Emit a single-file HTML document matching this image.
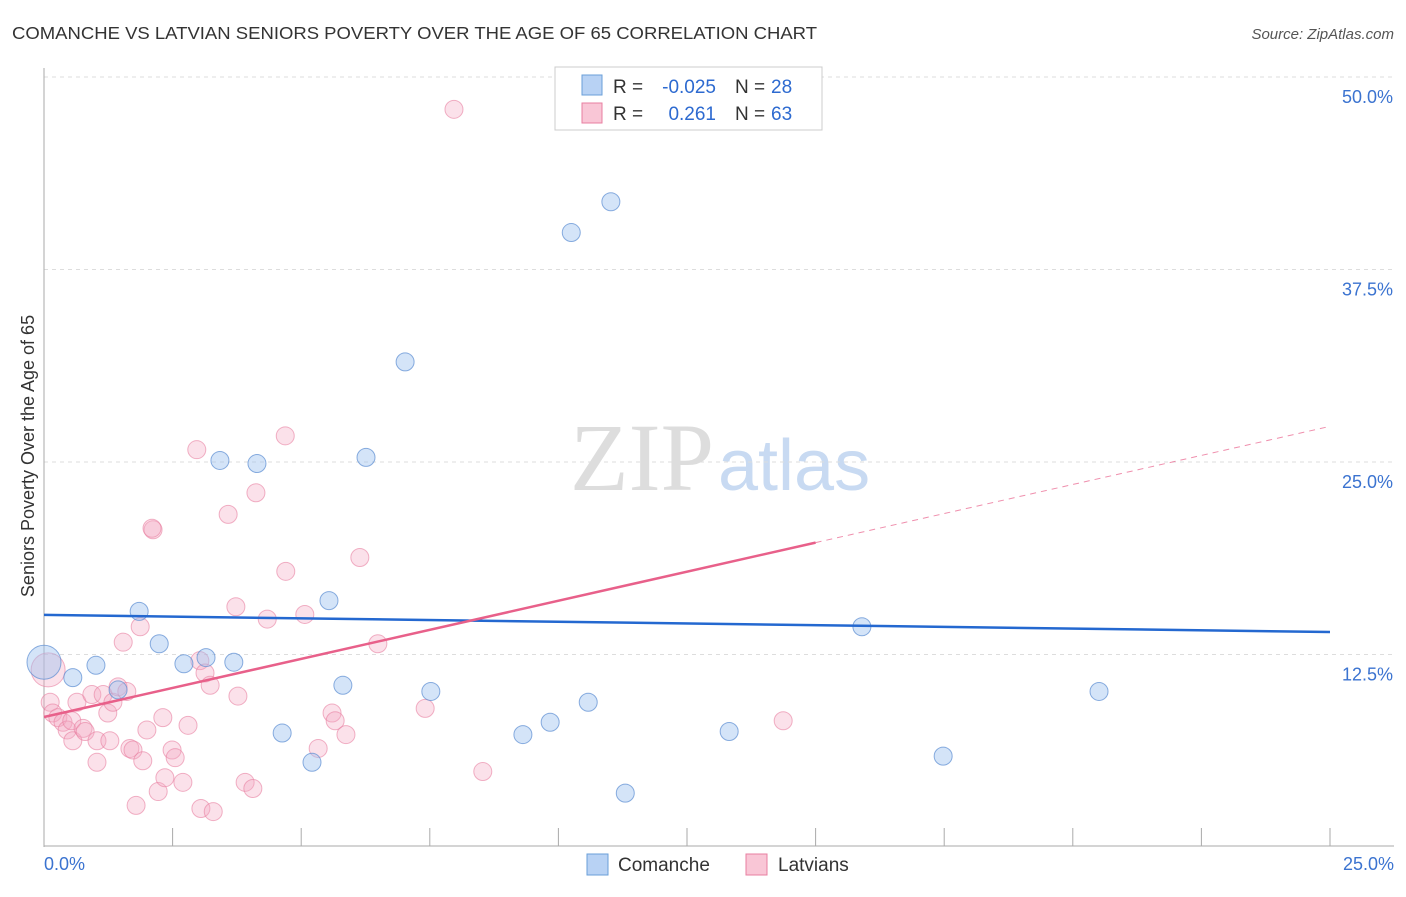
<!DOCTYPE html>
<html><head><meta charset="utf-8"><style>
body{margin:0;background:#fff;font-family:"Liberation Sans",sans-serif}
svg text{font-family:"Liberation Sans",sans-serif}
</style></head><body>
<svg id="c" width="1406" height="892">
<text x="12" y="39" font-size="17.5" fill="#333" textLength="805" lengthAdjust="spacingAndGlyphs">COMANCHE VS LATVIAN SENIORS POVERTY OVER THE AGE OF 65 CORRELATION CHART</text>
<text x="1394" y="39" font-size="15" fill="#555" font-style="italic" text-anchor="end">Source: ZipAtlas.com</text>
<text x="714" y="490" font-size="96" fill="#ddd" text-anchor="end" style="font-family:'Liberation Serif',serif">ZIP</text>
<text x="718" y="490" font-size="72" fill="#c8daf2">atlas</text>
<g id="grid"></g><g id="marks"></g>
<text transform="translate(34,456) rotate(-90)" font-size="18" fill="#333" text-anchor="middle">Seniors Poverty Over the Age of 65</text>
<g>
<rect x="555" y="67" width="267" height="63" fill="#fff" stroke="#ccc"/>
<rect x="582" y="75" width="20" height="20" fill="#b8d2f4" stroke="#6a9fd8"/>
<rect x="582" y="103" width="20" height="20" fill="#f9c6d6" stroke="#e87fa0"/>
<text x="613" y="93" font-size="19" fill="#333">R =</text>
<text x="716" y="93" font-size="19" fill="#2d6ad0" text-anchor="end">-0.025</text>
<text x="735" y="93" font-size="19" fill="#333">N =</text>
<text x="771" y="93" font-size="19" fill="#2d6ad0">28</text>
<text x="613" y="120" font-size="19" fill="#333">R =</text>
<text x="716" y="120" font-size="19" fill="#2d6ad0" text-anchor="end">0.261</text>
<text x="735" y="120" font-size="19" fill="#333">N =</text>
<text x="771" y="120" font-size="19" fill="#2d6ad0">63</text>
</g>
<g>
<rect x="587" y="854" width="21" height="21" fill="#b8d2f4" stroke="#6a9fd8"/>
<text x="618" y="871" font-size="19" fill="#333">Comanche</text>
<rect x="746" y="854" width="21" height="21" fill="#f9c6d6" stroke="#e87fa0"/>
<text x="778" y="871" font-size="19" fill="#333">Latvians</text>
</g>
</svg>
<script>
const xTicks=[0,2.5,5,7.5,10,12.5,15,17.5,20,22.5,25];
const yTicks=[12.5,25,37.5,50];
const yTickLabels=["12.5%","25.0%","37.5%","50.0%"];
const comancheX=[0,0.56,1.01,1.44,1.85,2.24,2.72,3.15,3.42,3.69,4.14,4.63,5.21,5.54,5.81,6.26,7.02,7.52,9.31,9.84,10.25,10.58,11.02,11.3,13.32,15.9,17.48,20.51];
const comancheY=[12.0,11.0,11.8,10.2,15.3,13.2,11.9,12.3,25.1,12.0,24.9,7.4,5.5,16.0,10.5,25.3,31.5,10.1,7.3,8.1,39.9,9.4,41.9,3.5,7.5,14.3,5.9,10.1];
const latvianX=[0.08,0.12,0.17,0.27,0.37,0.45,0.56,0.54,0.64,0.76,0.80,0.93,1.03,1.03,1.15,1.24,1.28,1.34,1.44,1.61,1.54,1.67,1.73,1.87,1.79,1.92,2.00,2.22,2.31,2.35,2.49,2.55,2.70,2.80,3.05,3.29,3.03,3.13,3.23,3.73,3.77,3.91,4.06,4.34,5.07,5.33,5.60,5.66,5.87,2.12,2.10,2.97,3.58,4.12,4.69,4.70,6.14,6.49,7.41,7.97,8.53,14.37];
const latvianY=[11.5,9.4,8.7,8.4,8.1,7.6,6.9,8.2,9.4,7.7,7.5,9.9,6.9,5.5,9.9,8.7,6.9,9.4,10.4,10.1,13.3,6.4,6.3,14.3,2.7,5.6,7.6,3.6,8.4,4.5,6.3,5.8,4.2,7.9,2.5,2.3,12.1,11.3,10.5,15.6,9.8,4.2,3.8,14.8,15.1,6.4,8.7,8.2,7.3,20.6,20.7,25.8,21.6,23.0,26.7,17.9,18.8,13.2,9.0,47.9,4.9,8.2];
const comancheTrend=[15.07,-0.0444];
const latvianTrend=[8.44,0.755];
const latvianSolidEnd=15;
const X=v=>44+v/25*1286, Y=v=>847-v/12.5*192.5;
const NS="http://www.w3.org/2000/svg";
function mk(p,t,a){const e=document.createElementNS(NS,t);for(const k in a)e.setAttribute(k,a[k]);p.appendChild(e);return e;}
const g=document.getElementById('grid'),m=document.getElementById('marks');
yTicks.forEach((t,i)=>{
 const l=mk(g,'line',{x1:44,x2:1394,y1:Y(t),y2:Y(t),stroke:'#ddd','stroke-dasharray':'4,4'});
 
 
 const tx=mk(g,'text',{x:1393,y:Y(t)+26,'font-size':18,fill:'#3b73d0','text-anchor':'end'});tx.textContent=yTickLabels[i];
 
 
});
mk(g,'line',{x1:44,x2:44,y1:68,y2:847,stroke:'#aaa'});
mk(g,'line',{x1:44,x2:1394,y1:846,y2:846,stroke:'#aaa'});
xTicks.forEach(t=>{const l=mk(g,'line',{x1:X(t),x2:X(t),y1:828,y2:846,stroke:'#aaa'});
 
 });
[["0.0%",44,'start'],["25.0%",1394,'end']].forEach(d=>{const t=mk(g,'text',{x:d[1],y:870,'font-size':18,fill:'#3b73d0','text-anchor':d[2]});t.textContent=d[0];
 
 });
latvianX.forEach((x,i)=>{const c=mk(m,'circle',{cx:X(x),cy:Y(latvianY[i]),r:i==0?17:9,fill:'rgba(244,170,195,0.35)',stroke:'rgba(232,127,160,0.6)','stroke-width':1});
 
 });
comancheX.forEach((x,i)=>{const c=mk(m,'circle',{cx:X(x),cy:Y(comancheY[i]),r:i==0?17:9,fill:'rgba(160,196,240,0.45)',stroke:'rgba(90,140,210,0.7)','stroke-width':1});
 
 });
const f=(t,x)=>t[0]+t[1]*x;
let l=mk(m,'line',{x1:X(0),y1:Y(f(comancheTrend,0)),x2:X(25),y2:Y(f(comancheTrend,25)),stroke:'#2468d0','stroke-width':2.5});


l=mk(m,'line',{x1:X(0),y1:Y(f(latvianTrend,0)),x2:X(latvianSolidEnd),y2:Y(f(latvianTrend,latvianSolidEnd)),stroke:'#e8608a','stroke-width':2.5});


l=mk(m,'line',{x1:X(latvianSolidEnd),y1:Y(f(latvianTrend,latvianSolidEnd)),x2:X(25),y2:Y(f(latvianTrend,25)),stroke:'#e8608a','stroke-width':1,'stroke-dasharray':'6,5','stroke-opacity':0.7});


</script>
</body></html>
